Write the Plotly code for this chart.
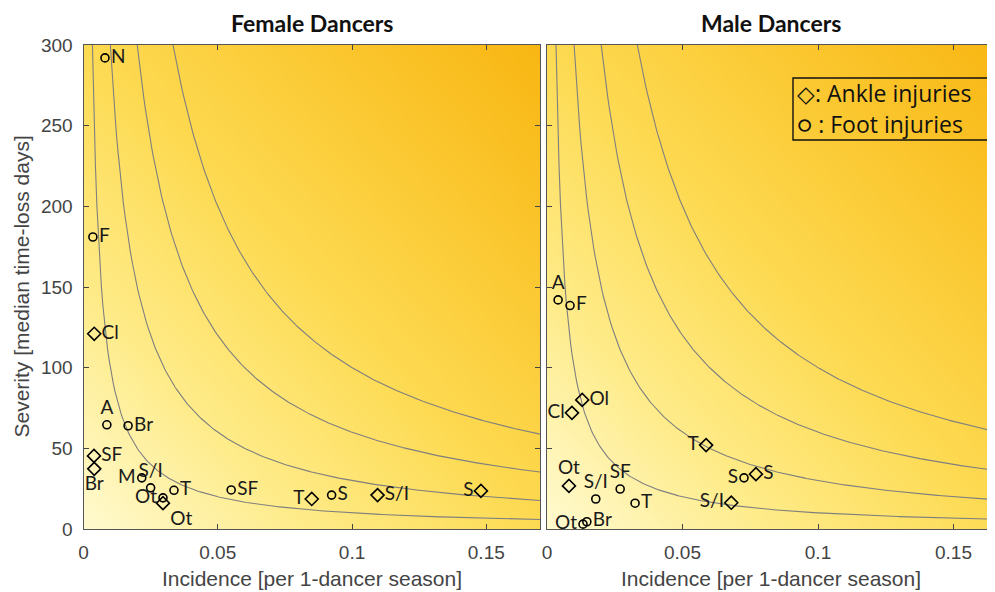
import numpy as np
import plotly.graph_objects as go

# ---------------- data ----------------
burden_levels = [1, 3, 6, 10]  # iso-burden contour levels (incidence x severity)

f_labels = ["N", "F", "Cl", "A", "Br", "SF", "Br", "M", "S/I", "T", "Ot", "Ot", "SF", "T", "S", "S/I", "S"]
f_incid = [0.008, 0.0035, 0.004, 0.0087, 0.0166, 0.0039, 0.004, 0.0217, 0.025, 0.0337, 0.0296, 0.0296, 0.055, 0.085, 0.0924, 0.1095, 0.148]
f_sever = [292, 181, 121, 64.6, 64, 45.3, 37.3, 31.7, 25.5, 24, 19.3, 16, 24.2, 18.6, 21, 21, 23.6]
f_type = ["foot", "foot", "ankle", "foot", "foot", "ankle", "ankle", "foot", "foot", "foot", "foot", "ankle", "foot", "ankle", "foot", "ankle", "ankle"]
f_tpos = ["middle right", "middle right", "middle right", "top center", "middle right", "middle right", "bottom center",
          "middle left", "top center", "middle right", "middle left", "bottom right", "middle right", "middle left",
          "middle right", "middle right", "middle left"]

m_labels = ["A", "F", "Ol", "Cl", "T", "Ot", "S/I", "SF", "T", "S", "S", "S/I", "Ot", "Br"]
m_incid = [0.0041, 0.0085, 0.013, 0.0092, 0.0587, 0.0081, 0.018, 0.027, 0.0325, 0.0727, 0.0771, 0.068, 0.0133, 0.0147]
m_sever = [142, 138.5, 80, 72, 52, 26.7, 18.6, 24.8, 16, 31.7, 34, 16.3, 3, 4.5]
m_type = ["foot", "foot", "ankle", "ankle", "ankle", "ankle", "foot", "foot", "foot", "foot", "ankle", "ankle", "foot", "foot"]
m_tpos = ["top center", "middle right", "middle right", "middle left", "middle left", "top center", "top center",
          "top center", "middle right", "middle left", "middle right", "middle left", "middle left", "middle right"]

x_ticks = [0, 0.05, 0.1, 0.15]
x_tick_text = ["0", "0.05", "0.1", "0.15"]
y_ticks = [0, 50, 100, 150, 200, 250, 300]

legend_lines = ["◇: Ankle injuries", "○ : Foot injuries"]

# ---------------- figure ----------------
OFF = 8  # page body margin
W, H = 995 - OFF, 592 - OFF
fig = go.Figure()


def px(x):
    return (x - OFF) / W


def py(y):
    return 1 - (y - OFF) / H


xmax_l = 0.17
xmax_r = (995 - 547) / 2710.0
ymax = 300

colorscale = [[0.0, "#FFFAD0"], [0.25, "#FEEB88"], [0.5, "#FDDA52"], [0.75, "#FBC831"], [1.0, "#F8B612"]]

label_font = dict(family="Lato, Open Sans, sans-serif", size=19, color="#1a1a1a")
axis_font = "Liberation Sans, Arial, sans-serif"


def add_panel(xa, ya, xmax, labels, incid, sever, types, tpos):
    gx = np.linspace(0, xmax, 120)
    gy = np.linspace(0, ymax, 120)
    X, Y = np.meshgrid(gx, gy)
    Z = X / 0.17 + Y / 300.0
    fig.add_trace(go.Heatmap(x=gx, y=gy, z=Z, colorscale=colorscale, zmin=0, zmax=2,
                             showscale=False, zsmooth="best", hoverinfo="skip",
                             xaxis=xa, yaxis=ya))
    for c in burden_levels:
        xs = np.linspace(c / ymax, xmax, 300)
        fig.add_trace(go.Scatter(x=xs, y=c / xs, mode="lines",
                                 line=dict(color="#7f7f7f", width=1.1),
                                 hoverinfo="skip", showlegend=False, xaxis=xa, yaxis=ya))
    for kind, sym, size in [("foot", "circle-open", 8), ("ankle", "diamond-open", 10)]:
        idx = [i for i, t in enumerate(types) if t == kind]
        fig.add_trace(go.Scatter(
            x=[incid[i] for i in idx], y=[sever[i] for i in idx],
            text=[labels[i] for i in idx], textposition=[tpos[i] for i in idx],
            mode="markers+text", cliponaxis=False,
            marker=dict(symbol=sym, size=size, color="black", line=dict(color="black", width=1.6)),
            textfont=label_font, showlegend=False, xaxis=xa, yaxis=ya))


add_panel("x", "y", xmax_l, f_labels, f_incid, f_sever, f_type, f_tpos)
add_panel("x2", "y2", xmax_r, m_labels, m_incid, m_sever, m_type, m_tpos)

axis_common = dict(showgrid=False, zeroline=False, ticks="inside", ticklen=5, tickwidth=1,
                   tickcolor="#444", showline=True, linecolor="#555", linewidth=1.2, mirror="ticks",
                   automargin=False,
                   tickfont=dict(family=axis_font, size=19, color="#444"))

y0 = py(529)
y1 = py(45)

fig.update_layout(
    width=W, height=H, margin=dict(l=0, r=0, t=0, b=0),
    paper_bgcolor="white", plot_bgcolor="white",
    xaxis=dict(domain=[px(83.5), px(540)], range=[0, xmax_l], tickvals=x_ticks,
               ticktext=x_tick_text, anchor="y", ticklabelstandoff=6, **axis_common),
    yaxis=dict(domain=[y0, y1], range=[0, ymax], tickvals=y_ticks, anchor="x",
               ticklabelstandoff=6, **axis_common),
    xaxis2=dict(domain=[px(547), 1.0], range=[0, xmax_r], tickvals=x_ticks,
                ticktext=x_tick_text, anchor="y2", ticklabelstandoff=6, **axis_common),
    yaxis2=dict(domain=[y0, y1], range=[0, ymax], tickvals=y_ticks, showticklabels=False, anchor="x2",
                **axis_common),
)

# axis titles
title_axis_font = dict(family=axis_font, size=21, color="#444")
for xc in [(83.5 + 540) / 2, (547 + 995) / 2]:
    fig.add_annotation(text="Incidence [per 1-dancer season]", xref="paper", yref="paper",
                       x=px(xc), y=py(578), showarrow=False, font=title_axis_font,
                       xanchor="center", yanchor="middle")
fig.add_annotation(text="Severity [median time-loss days]", xref="paper", yref="paper",
                   x=px(8), y=py(287), showarrow=False, font=title_axis_font, textangle=-90,
                   xanchor="left", yanchor="middle", borderpad=0)

title_font = dict(family="Lato, Open Sans, sans-serif", size=23, color="#111")
fig.add_annotation(text="<b>Female Dancers</b>", xref="paper", yref="paper",
                   x=px((83.5 + 540) / 2), y=py(8), showarrow=False, font=title_font,
                   xanchor="center", yanchor="top", borderpad=0)
fig.add_annotation(text="<b>Male Dancers</b>", xref="paper", yref="paper",
                   x=px((547 + 995) / 2), y=py(8), showarrow=False, font=title_font,
                   xanchor="center", yanchor="top", borderpad=0)

# legend box
fig.add_shape(type="rect", xref="paper", yref="paper",
              x0=px(793), x1=px(993), y0=py(140), y1=py(78),
              line=dict(color="#111", width=1.4), fillcolor="rgba(0,0,0,0)")
for txt, yc in zip(legend_lines, [93, 124]):
    fig.add_annotation(text=txt, xref="paper", yref="paper",
                       x=px(796), y=py(yc), xanchor="left", yanchor="middle", align="left",
                       showarrow=False, borderpad=0,
                       font=dict(family="Open Sans, Lato, sans-serif", size=23, color="#111"))

fig.write_html("out.html")
